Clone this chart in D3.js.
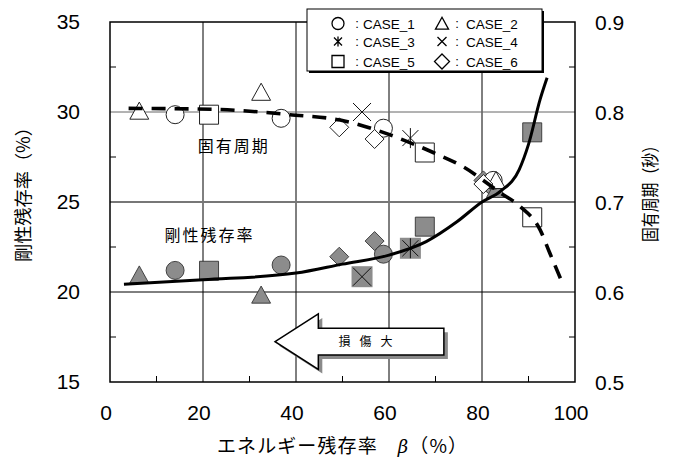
<!DOCTYPE html>
<html>
<head>
<meta charset="utf-8">
<script src="https://cdn.jsdelivr.net/npm/d3@7"></script>
<style>
  html, body { margin: 0; padding: 0; background: #fff; }
  svg { display: block; }
</style>
</head>
<body>
<svg id="chart" width="676" height="458"></svg>
<script>
// ---- axes ----
const xTicks = [0, 20, 40, 60, 80, 100];
const xMinorTicks = [10, 30, 50, 70, 90];
const yLeftTicks = [15, 20, 25, 30, 35];
const yLeftMinorTicks = [17.5, 22.5, 27.5, 32.5];
const yRightTicks = [0.5, 0.6, 0.7, 0.8, 0.9];
const yRightMinorTicks = [0.55, 0.65, 0.75, 0.85];

// ---- measured cases: energy ratio beta (%), stiffness ratio (%), natural period (s) ----
const case1Beta = [14.0, 36.8, 58.8, 82.4];
const case1Stiff = [21.2, 21.5, 22.1, 25.9];
const case1Period = [0.797, 0.793, 0.782, 0.724];

const case2Beta = [6.3, 32.5, 83.0];
const case2Stiff = [20.95, 19.83, 25.7];
const case2Period = [0.801, 0.822, 0.724];

const case3Beta = [64.6];
const case3Stiff = [22.43];
const case3Period = [0.771];

const case4Beta = [54.2];
const case4Stiff = [20.85];
const case4Period = [0.800];

const case5Beta = [21.3, 67.7, 90.8];
const case5Stiff = [21.18, 23.63, 28.87];
const case5Period = [0.797, 0.755, 0.683];

const case6Beta = [49.3, 56.9, 80.3];
const case6Stiff = [21.96, 22.83, 26.2];
const case6Period = [0.783, 0.770, 0.720];

const caseNames = ["CASE_1", "CASE_2", "CASE_3", "CASE_4", "CASE_5", "CASE_6"];
const caseShapes = ["circle", "triangle", "star", "cross", "square", "diamond"];

// ---- fitted trend curves ----
const stiffCurveBeta = [3, 20, 40, 50, 60, 68, 74.6, 80, 84, 88, 90, 92.5, 94];
const stiffCurveVal = [20.43, 20.68, 21.05, 21.55, 22.05, 22.8, 23.9, 25.0, 25.6, 26.8, 28.2, 30.7, 31.9];
const periodCurveBeta = [4, 22, 38.7, 49.5, 59.5, 64.5, 69.5, 76, 84, 88.2, 92.5, 94.6, 97.2];
const periodCurveVal = [0.804, 0.803, 0.797, 0.791, 0.776, 0.766, 0.755, 0.739, 0.710, 0.695, 0.669, 0.643, 0.611];

// ---- damage arrow (beta, stiffness units) ----
const arrowTip = [35.5, 17.24];
const arrowHeadBase = 44.8;
const arrowHeadTop = 18.78, arrowHeadBottom = 15.7;
const arrowShaftTop = 17.98, arrowShaftBottom = 16.5;
const arrowEnd = 71.8;

const cases = [
  { beta: case1Beta, stiff: case1Stiff, period: case1Period },
  { beta: case2Beta, stiff: case2Stiff, period: case2Period },
  { beta: case3Beta, stiff: case3Stiff, period: case3Period },
  { beta: case4Beta, stiff: case4Stiff, period: case4Period },
  { beta: case5Beta, stiff: case5Stiff, period: case5Period },
  { beta: case6Beta, stiff: case6Stiff, period: case6Period }
];

const svg = d3.select("#chart");
const m = { left: 110, top: 22, right: 101, bottom: 76 };
const W = 676 - m.left - m.right;
const H = 458 - m.top - m.bottom;

const x = d3.scaleLinear().domain([0, 100]).range([m.left, m.left + W]);
const yL = d3.scaleLinear().domain([15, 35]).range([m.top + H, m.top]);
const yR = d3.scaleLinear().domain([0.5, 0.9]).range([m.top + H, m.top]);

const numFont = "'Liberation Sans', Arial, sans-serif";
const jpFont = "'Noto Sans CJK JP', 'Noto Sans CJK SC', sans-serif";

// grid lines
const grid = svg.append("g");
grid.selectAll("line.v").data(xTicks.slice(1, -1)).join("line")
  .attr("x1", d => x(d)).attr("x2", d => x(d))
  .attr("y1", m.top).attr("y2", m.top + H)
  .attr("stroke", "#000").attr("stroke-width", 1);
const hStyles = { 20: ["#000", 1], 25: ["#777", 2], 30: ["#666", 1] };
grid.selectAll("line.h").data(yLeftTicks.slice(1, -1)).join("line")
  .attr("x1", m.left).attr("x2", m.left + W)
  .attr("y1", d => yL(d)).attr("y2", d => yL(d))
  .attr("stroke", d => hStyles[d][0]).attr("stroke-width", d => hStyles[d][1]);

// inner minor ticks
const tickLen = 6;
const ticks = svg.append("g").attr("stroke", "#000").attr("stroke-width", 1);
ticks.selectAll("line.xm").data(xMinorTicks).join("line")
  .attr("x1", d => x(d)).attr("x2", d => x(d))
  .attr("y1", m.top + H).attr("y2", m.top + H - tickLen);
ticks.selectAll("line.ylm").data(yLeftMinorTicks).join("line")
  .attr("x1", m.left).attr("x2", m.left + tickLen)
  .attr("y1", d => yL(d)).attr("y2", d => yL(d));
ticks.selectAll("line.yrm").data(yRightMinorTicks).join("line")
  .attr("x1", m.left + W).attr("x2", m.left + W - tickLen)
  .attr("y1", d => yR(d)).attr("y2", d => yR(d));

// tick labels
svg.append("g").selectAll("text").data(xTicks).join("text")
  .attr("x", d => x(d) - 4).attr("y", 420)
  .attr("text-anchor", "middle")
  .attr("font-family", numFont).attr("font-size", 21).attr("fill", "#000")
  .text(d => d);
svg.append("g").selectAll("text").data(yLeftTicks).join("text")
  .attr("x", 80).attr("y", d => yL(d) + 7)
  .attr("text-anchor", "end")
  .attr("font-family", numFont).attr("font-size", 21).attr("fill", "#000")
  .text(d => d);
svg.append("g").selectAll("text").data(yRightTicks).join("text")
  .attr("x", 595).attr("y", d => yR(d) + 8)
  .attr("text-anchor", "start")
  .attr("font-family", numFont).attr("font-size", 21).attr("fill", "#000")
  .text(d => d.toFixed(1));

// axis titles
const xTitle = svg.append("text")
  .attr("x", 217).attr("y", 453)
  .attr("font-family", jpFont).attr("font-size", 19).attr("fill", "#000")
  .attr("textLength", 250).attr("lengthAdjust", "spacing");
xTitle.append("tspan").text("エネルギー残存率　");
xTitle.append("tspan").attr("font-family", "'DejaVu Serif', serif").attr("font-style", "italic")
  .attr("font-size", 18).text("β");
xTitle.append("tspan").text("（%）");
svg.append("text")
  .attr("transform", `translate(30,190) rotate(-90)`)
  .attr("text-anchor", "middle")
  .attr("font-family", jpFont).attr("font-size", 18).attr("fill", "#000")
  .attr("textLength", 144).attr("lengthAdjust", "spacingAndGlyphs")
  .text("剛性残存率（%）");
svg.append("text")
  .attr("transform", `translate(657,190) rotate(-90)`)
  .attr("text-anchor", "middle")
  .attr("font-family", jpFont).attr("font-size", 18).attr("fill", "#000")
  .attr("textLength", 104).attr("lengthAdjust", "spacingAndGlyphs")
  .text("固有周期（秒）");

// marker shapes
function shapePath(shape, s) {
  const p = d3.path();
  if (shape === "circle") { p.arc(0, 0, s, 0, 2 * Math.PI); }
  else if (shape === "square") { p.rect(-s, -s, 2 * s, 2 * s); }
  else if (shape === "triangle") {
    p.moveTo(0, -s); p.lineTo(s * 1.05, s * 0.9); p.lineTo(-s * 1.05, s * 0.9); p.closePath();
  } else if (shape === "diamond") {
    p.moveTo(0, -s); p.lineTo(s, 0); p.lineTo(0, s); p.lineTo(-s, 0); p.closePath();
  } else if (shape === "cross") {
    p.moveTo(-s, -s); p.lineTo(s, s); p.moveTo(s, -s); p.lineTo(-s, s);
  } else if (shape === "star") {
    p.moveTo(-s * 0.8, -s * 0.8); p.lineTo(s * 0.8, s * 0.8);
    p.moveTo(s * 0.8, -s * 0.8); p.lineTo(-s * 0.8, s * 0.8);
    p.moveTo(0, -s); p.lineTo(0, s);
  }
  return p.toString();
}
const bigSize = { circle: 9, square: 9.5, triangle: 9, diamond: 9.5, cross: 9, star: 10 };
const grayFill = "#8c8c8c";

function drawMarker(g, shape, cx, cy, filled) {
  const s = bigSize[shape];
  const fill = filled ? grayFill : "#fff";
  if (shape === "cross" || shape === "star") {
    if (filled) {
      g.append("rect").attr("x", cx - 10.5).attr("y", cy - 10.5)
        .attr("width", 21).attr("height", 21).attr("fill", grayFill);
    }
    g.append("path").attr("d", shapePath(shape, s))
      .attr("transform", `translate(${cx},${cy})`)
      .attr("fill", "none").attr("stroke", "#111").attr("stroke-width", 1);
  } else {
    g.append("path").attr("d", shapePath(shape, s))
      .attr("transform", `translate(${cx},${cy})`)
      .attr("fill", fill).attr("stroke", filled ? "#333" : "#222")
      .attr("stroke-width", filled ? 0.9 : 1);
  }
}

// stiffness ratio markers (grey, left axis) then natural period markers (white, right axis)
const markers = svg.append("g");
cases.forEach((c, i) => {
  c.beta.forEach((b, j) => drawMarker(markers, caseShapes[i], x(b), yL(c.stiff[j]), true));
});
cases.forEach((c, i) => {
  c.beta.forEach((b, j) => drawMarker(markers, caseShapes[i], x(b), yR(c.period[j]), false));
});

// trend curves
const stiffLine = d3.line().curve(d3.curveMonotoneX)
  .x((d, i) => x(stiffCurveBeta[i])).y(d => yL(d));
svg.append("path").attr("d", stiffLine(stiffCurveVal))
  .attr("fill", "none").attr("stroke", "#000").attr("stroke-width", 3);
const periodLine = d3.line().curve(d3.curveMonotoneX)
  .x((d, i) => x(periodCurveBeta[i])).y(d => yR(d));
svg.append("path").attr("d", periodLine(periodCurveVal))
  .attr("fill", "none").attr("stroke", "#000").attr("stroke-width", 3.6)
  .attr("stroke-dasharray", "14,9");

// curve labels
svg.append("text").attr("x", x(26.6)).attr("y", yL(28.1) + 6)
  .attr("text-anchor", "middle").attr("font-family", jpFont).attr("font-size", 16)
  .attr("letter-spacing", 2).text("固有周期");
svg.append("text").attr("x", x(21.4)).attr("y", yL(23.17) + 6)
  .attr("text-anchor", "middle").attr("font-family", jpFont).attr("font-size", 16)
  .attr("letter-spacing", 2).text("剛性残存率");

// damage arrow with drop shadow
const arrowPts = [
  [x(arrowTip[0]), yL(arrowTip[1])],
  [x(arrowHeadBase), yL(arrowHeadTop)],
  [x(arrowHeadBase), yL(arrowShaftTop)],
  [x(arrowEnd), yL(arrowShaftTop)],
  [x(arrowEnd), yL(arrowShaftBottom)],
  [x(arrowHeadBase), yL(arrowShaftBottom)],
  [x(arrowHeadBase), yL(arrowHeadBottom)]
];
const arrowPath = d3.line()(arrowPts) + "Z";
svg.append("path").attr("d", arrowPath).attr("transform", "translate(4,4)")
  .attr("fill", "#8a8a8a").attr("stroke", "none");
svg.append("path").attr("d", arrowPath)
  .attr("fill", "#fff").attr("stroke", "#000").attr("stroke-width", 1.5)
  .attr("stroke-linejoin", "miter");
svg.append("text").attr("x", x(55.9)).attr("y", yL(arrowTip[1]) + 4.5)
  .attr("text-anchor", "middle").attr("font-family", jpFont).attr("font-size", 12)
  .attr("letter-spacing", 9).text("損傷大");

// plot frame
svg.append("rect").attr("x", m.left).attr("y", m.top).attr("width", W).attr("height", H)
  .attr("fill", "none").attr("stroke", "#000").attr("stroke-width", 1.5);

// legend
const lg = svg.append("g");
lg.append("rect").attr("x", 309).attr("y", 11).attr("width", 235).attr("height", 62)
  .attr("fill", "#000");
lg.append("rect").attr("x", 307).attr("y", 9).attr("width", 235).attr("height", 62)
  .attr("fill", "#fff").attr("stroke", "#000").attr("stroke-width", 1);
const legendSize = { circle: 6, square: 6, triangle: 6.2, diamond: 7.5, cross: 4.5, star: 5 };
const colSym = [338, 442], colColon = [357, 457], colText = [363, 466];
const rowY = [23.5, 41.5, 61.5];
caseNames.forEach((name, i) => {
  const col = i % 2, row = Math.floor(i / 2);
  const shape = caseShapes[i];
  lg.append("path").attr("d", shapePath(shape, legendSize[shape]))
    .attr("transform", `translate(${colSym[col]},${rowY[row]})`)
    .attr("fill", "none").attr("stroke", "#000").attr("stroke-width", 1.3);
  lg.append("text").attr("x", colColon[col]).attr("y", rowY[row] + 4.5)
    .attr("text-anchor", "middle").attr("font-family", numFont).attr("font-size", 13)
    .text(":");
  lg.append("text").attr("x", colText[col]).attr("y", rowY[row] + 5)
    .attr("font-family", numFont).attr("font-size", 13.5)
    .text(name);
});
</script>
</body>
</html>
